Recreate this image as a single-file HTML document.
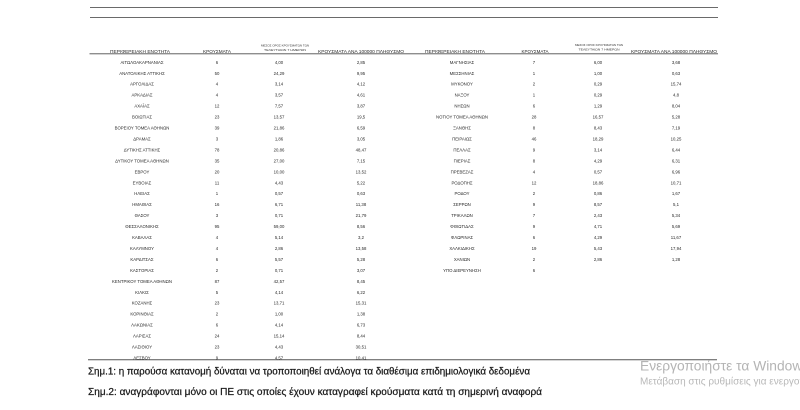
<!DOCTYPE html>
<html>
<head>
<meta charset="utf-8">
<style>
html,body{margin:0;padding:0;background:#ffffff;}
svg{display:block;}
.d{font-family:"Liberation Sans","DejaVu Sans",sans-serif;font-size:4.3px;fill:#2a2a2a;text-anchor:middle;}
.h{font-family:"Liberation Sans","DejaVu Sans",sans-serif;font-size:4.3px;fill:#2a2a2a;text-anchor:middle;}
.hs{font-family:"Liberation Sans","DejaVu Sans",sans-serif;font-size:2.9px;fill:#333;text-anchor:middle;}
.n{font-family:"Liberation Sans","DejaVu Sans",sans-serif;font-size:9.8px;fill:#1a1a1a;stroke:#1a1a1a;stroke-width:0.25;}
.w1{font-family:"Liberation Sans","DejaVu Sans",sans-serif;font-size:13.8px;fill:#b4b4b4;}
.w2{font-family:"Liberation Sans","DejaVu Sans",sans-serif;font-size:10px;fill:#b8b8b8;}
</style>
</head>
<body>
<svg width="800" height="410" viewBox="0 0 800 410" xmlns="http://www.w3.org/2000/svg">
<rect width="800" height="410" fill="#ffffff"/>
<!-- top lines -->
<line x1="90" y1="7.5" x2="718" y2="7.5" stroke="#6a6a6a" stroke-width="1"/>
<line x1="90" y1="17.5" x2="718" y2="17.5" stroke="#6a6a6a" stroke-width="1"/>

<!-- left headers -->
<text class="h" x="140" y="53" textLength="60" lengthAdjust="spacingAndGlyphs">ΠΕΡΙΦΕΡΕΙΑΚΗ ΕΝΟΤΗΤΑ</text>
<text class="h" x="217" y="53" textLength="28" lengthAdjust="spacingAndGlyphs">ΚΡΟΥΣΜΑΤΑ</text>
<text class="hs" x="285" y="46.5" textLength="48" lengthAdjust="spacingAndGlyphs">ΜΕΣΟΣ ΟΡΟΣ ΚΡΟΥΣΜΑΤΩΝ ΤΩΝ</text>
<text class="hs" x="285" y="51" textLength="42" lengthAdjust="spacingAndGlyphs">ΤΕΛΕΥΤΑΙΩΝ 7 ΗΜΕΡΩΝ</text>
<text class="h" x="361" y="53" textLength="86" lengthAdjust="spacingAndGlyphs">ΚΡΟΥΣΜΑΤΑ ΑΝΑ 100000 ΠΛΗΘΥΣΜΟ</text>

<!-- right headers -->
<text class="h" x="455" y="53" textLength="60" lengthAdjust="spacingAndGlyphs">ΠΕΡΙΦΕΡΕΙΑΚΗ ΕΝΟΤΗΤΑ</text>
<text class="h" x="535" y="53" textLength="27" lengthAdjust="spacingAndGlyphs">ΚΡΟΥΣΜΑΤΑ</text>
<text class="hs" x="599" y="46" textLength="48" lengthAdjust="spacingAndGlyphs">ΜΕΣΟΣ ΟΡΟΣ ΚΡΟΥΣΜΑΤΩΝ ΤΩΝ</text>
<text class="hs" x="599" y="50.5" textLength="41" lengthAdjust="spacingAndGlyphs">ΤΕΛΕΥΤΑΙΩΝ 7 ΗΜΕΡΩΝ</text>
<text class="h" x="674" y="53" textLength="86" lengthAdjust="spacingAndGlyphs">ΚΡΟΥΣΜΑΤΑ ΑΝΑ 100000 ΠΛΗΘΥΣΜΟ</text>

<line x1="89.5" y1="53.8" x2="718" y2="53.8" stroke="#4a4a4a" stroke-width="0.9"/>

<!-- left table rows -->
<g>
<text class="d" x="142" y="63.8">ΑΙΤΩΛΟΑΚΑΡΝΑΝΙΑΣ</text><text class="d" x="217" y="63.8">6</text><text class="d" x="279" y="63.8">4,00</text><text class="d" x="361" y="63.8">2,85</text>
<text class="d" x="142" y="74.8">ΑΝΑΤΟΛΙΚΗΣ ΑΤΤΙΚΗΣ</text><text class="d" x="217" y="74.8">50</text><text class="d" x="279" y="74.8">24,29</text><text class="d" x="361" y="74.8">9,95</text>
<text class="d" x="142" y="85.7">ΑΡΓΟΛΙΔΑΣ</text><text class="d" x="217" y="85.7">4</text><text class="d" x="279" y="85.7">3,14</text><text class="d" x="361" y="85.7">4,12</text>
<text class="d" x="142" y="96.7">ΑΡΚΑΔΙΑΣ</text><text class="d" x="217" y="96.7">4</text><text class="d" x="279" y="96.7">3,57</text><text class="d" x="361" y="96.7">4,61</text>
<text class="d" x="142" y="107.6">ΑΧΑΪΑΣ</text><text class="d" x="217" y="107.6">12</text><text class="d" x="279" y="107.6">7,57</text><text class="d" x="361" y="107.6">3,87</text>
<text class="d" x="142" y="118.6">ΒΟΙΩΤΙΑΣ</text><text class="d" x="217" y="118.6">23</text><text class="d" x="279" y="118.6">13,57</text><text class="d" x="361" y="118.6">19,5</text>
<text class="d" x="142" y="129.5">ΒΟΡΕΙΟΥ ΤΟΜΕΑ ΑΘΗΝΩΝ</text><text class="d" x="217" y="129.5">39</text><text class="d" x="279" y="129.5">21,86</text><text class="d" x="361" y="129.5">6,59</text>
<text class="d" x="142" y="140.5">ΔΡΑΜΑΣ</text><text class="d" x="217" y="140.5">3</text><text class="d" x="279" y="140.5">1,86</text><text class="d" x="361" y="140.5">3,05</text>
<text class="d" x="142" y="151.4">ΔΥΤΙΚΗΣ ΑΤΤΙΚΗΣ</text><text class="d" x="217" y="151.4">78</text><text class="d" x="279" y="151.4">20,86</text><text class="d" x="361" y="151.4">48,47</text>
<text class="d" x="142" y="162.4">ΔΥΤΙΚΟΥ ΤΟΜΕΑ ΑΘΗΝΩΝ</text><text class="d" x="217" y="162.4">35</text><text class="d" x="279" y="162.4">27,00</text><text class="d" x="361" y="162.4">7,15</text>
<text class="d" x="142" y="173.3">ΕΒΡΟΥ</text><text class="d" x="217" y="173.3">20</text><text class="d" x="279" y="173.3">10,00</text><text class="d" x="361" y="173.3">13,52</text>
<text class="d" x="142" y="184.3">ΕΥΒΟΙΑΣ</text><text class="d" x="217" y="184.3">11</text><text class="d" x="279" y="184.3">4,43</text><text class="d" x="361" y="184.3">5,22</text>
<text class="d" x="142" y="195.2">ΗΛΕΙΑΣ</text><text class="d" x="217" y="195.2">1</text><text class="d" x="279" y="195.2">0,57</text><text class="d" x="361" y="195.2">0,63</text>
<text class="d" x="142" y="206.2">ΗΜΑΘΙΑΣ</text><text class="d" x="217" y="206.2">16</text><text class="d" x="279" y="206.2">6,71</text><text class="d" x="361" y="206.2">11,38</text>
<text class="d" x="142" y="217.1">ΘΑΣΟΥ</text><text class="d" x="217" y="217.1">3</text><text class="d" x="279" y="217.1">0,71</text><text class="d" x="361" y="217.1">21,79</text>
<text class="d" x="142" y="228.1">ΘΕΣΣΑΛΟΝΙΚΗΣ</text><text class="d" x="217" y="228.1">95</text><text class="d" x="279" y="228.1">59,00</text><text class="d" x="361" y="228.1">8,56</text>
<text class="d" x="142" y="239.0">ΚΑΒΑΛΑΣ</text><text class="d" x="217" y="239.0">4</text><text class="d" x="279" y="239.0">5,14</text><text class="d" x="361" y="239.0">3,2</text>
<text class="d" x="142" y="250.0">ΚΑΛΥΜΝΟΥ</text><text class="d" x="217" y="250.0">4</text><text class="d" x="279" y="250.0">2,86</text><text class="d" x="361" y="250.0">13,58</text>
<text class="d" x="142" y="260.9">ΚΑΡΔΙΤΣΑΣ</text><text class="d" x="217" y="260.9">6</text><text class="d" x="279" y="260.9">5,57</text><text class="d" x="361" y="260.9">5,28</text>
<text class="d" x="142" y="271.9">ΚΑΣΤΟΡΙΑΣ</text><text class="d" x="217" y="271.9">2</text><text class="d" x="279" y="271.9">0,71</text><text class="d" x="361" y="271.9">3,07</text>
<text class="d" x="142" y="282.8">ΚΕΝΤΡΙΚΟΥ ΤΟΜΕΑ ΑΘΗΝΩΝ</text><text class="d" x="217" y="282.8">87</text><text class="d" x="279" y="282.8">42,57</text><text class="d" x="361" y="282.8">8,45</text>
<text class="d" x="142" y="293.8">ΚΙΛΚΙΣ</text><text class="d" x="217" y="293.8">5</text><text class="d" x="279" y="293.8">4,14</text><text class="d" x="361" y="293.8">6,22</text>
<text class="d" x="142" y="304.7">ΚΟΖΑΝΗΣ</text><text class="d" x="217" y="304.7">23</text><text class="d" x="279" y="304.7">13,71</text><text class="d" x="361" y="304.7">15,31</text>
<text class="d" x="142" y="315.7">ΚΟΡΙΝΘΙΑΣ</text><text class="d" x="217" y="315.7">2</text><text class="d" x="279" y="315.7">1,00</text><text class="d" x="361" y="315.7">1,38</text>
<text class="d" x="142" y="326.6">ΛΑΚΩΝΙΑΣ</text><text class="d" x="217" y="326.6">6</text><text class="d" x="279" y="326.6">4,14</text><text class="d" x="361" y="326.6">6,73</text>
<text class="d" x="142" y="337.6">ΛΑΡΙΣΑΣ</text><text class="d" x="217" y="337.6">24</text><text class="d" x="279" y="337.6">15,14</text><text class="d" x="361" y="337.6">8,44</text>
<text class="d" x="142" y="348.5">ΛΑΣΙΘΙΟΥ</text><text class="d" x="217" y="348.5">23</text><text class="d" x="279" y="348.5">4,43</text><text class="d" x="361" y="348.5">30,51</text>
<text class="d" x="142" y="359.5">ΛΕΣΒΟΥ</text><text class="d" x="217" y="359.5">9</text><text class="d" x="279" y="359.5">4,57</text><text class="d" x="361" y="359.5">10,41</text>
</g>

<!-- right table rows -->
<g>
<text class="d" x="462" y="63.8">ΜΑΓΝΗΣΙΑΣ</text><text class="d" x="534" y="63.8">7</text><text class="d" x="598" y="63.8">6,00</text><text class="d" x="676" y="63.8">3,68</text>
<text class="d" x="462" y="74.8">ΜΕΣΣΗΝΙΑΣ</text><text class="d" x="534" y="74.8">1</text><text class="d" x="598" y="74.8">1,00</text><text class="d" x="676" y="74.8">0,63</text>
<text class="d" x="462" y="85.7">ΜΥΚΟΝΟΥ</text><text class="d" x="534" y="85.7">2</text><text class="d" x="598" y="85.7">0,29</text><text class="d" x="676" y="85.7">15,74</text>
<text class="d" x="462" y="96.7">ΝΑΞΟΥ</text><text class="d" x="534" y="96.7">1</text><text class="d" x="598" y="96.7">0,29</text><text class="d" x="676" y="96.7">4,8</text>
<text class="d" x="462" y="107.6">ΝΗΣΩΝ</text><text class="d" x="534" y="107.6">6</text><text class="d" x="598" y="107.6">1,29</text><text class="d" x="676" y="107.6">8,04</text>
<text class="d" x="462" y="118.6">ΝΟΤΙΟΥ ΤΟΜΕΑ ΑΘΗΝΩΝ</text><text class="d" x="534" y="118.6">28</text><text class="d" x="598" y="118.6">16,57</text><text class="d" x="676" y="118.6">5,28</text>
<text class="d" x="462" y="129.5">ΞΑΝΘΗΣ</text><text class="d" x="534" y="129.5">8</text><text class="d" x="598" y="129.5">8,43</text><text class="d" x="676" y="129.5">7,19</text>
<text class="d" x="462" y="140.5">ΠΕΙΡΑΙΩΣ</text><text class="d" x="534" y="140.5">46</text><text class="d" x="598" y="140.5">18,29</text><text class="d" x="676" y="140.5">10,25</text>
<text class="d" x="462" y="151.4">ΠΕΛΛΑΣ</text><text class="d" x="534" y="151.4">9</text><text class="d" x="598" y="151.4">3,14</text><text class="d" x="676" y="151.4">6,44</text>
<text class="d" x="462" y="162.4">ΠΙΕΡΙΑΣ</text><text class="d" x="534" y="162.4">8</text><text class="d" x="598" y="162.4">4,29</text><text class="d" x="676" y="162.4">6,31</text>
<text class="d" x="462" y="173.3">ΠΡΕΒΕΖΑΣ</text><text class="d" x="534" y="173.3">4</text><text class="d" x="598" y="173.3">0,57</text><text class="d" x="676" y="173.3">6,96</text>
<text class="d" x="462" y="184.3">ΡΟΔΟΠΗΣ</text><text class="d" x="534" y="184.3">12</text><text class="d" x="598" y="184.3">18,86</text><text class="d" x="676" y="184.3">10,71</text>
<text class="d" x="462" y="195.2">ΡΟΔΟΥ</text><text class="d" x="534" y="195.2">2</text><text class="d" x="598" y="195.2">0,86</text><text class="d" x="676" y="195.2">1,67</text>
<text class="d" x="462" y="206.2">ΣΕΡΡΩΝ</text><text class="d" x="534" y="206.2">9</text><text class="d" x="598" y="206.2">8,57</text><text class="d" x="676" y="206.2">5,1</text>
<text class="d" x="462" y="217.1">ΤΡΙΚΑΛΩΝ</text><text class="d" x="534" y="217.1">7</text><text class="d" x="598" y="217.1">2,43</text><text class="d" x="676" y="217.1">5,34</text>
<text class="d" x="462" y="228.1">ΦΘΙΩΤΙΔΑΣ</text><text class="d" x="534" y="228.1">9</text><text class="d" x="598" y="228.1">4,71</text><text class="d" x="676" y="228.1">5,69</text>
<text class="d" x="462" y="239.0">ΦΛΩΡΙΝΑΣ</text><text class="d" x="534" y="239.0">6</text><text class="d" x="598" y="239.0">4,29</text><text class="d" x="676" y="239.0">11,67</text>
<text class="d" x="462" y="250.0">ΧΑΛΚΙΔΙΚΗΣ</text><text class="d" x="534" y="250.0">19</text><text class="d" x="598" y="250.0">5,43</text><text class="d" x="676" y="250.0">17,94</text>
<text class="d" x="462" y="260.9">ΧΑΝΙΩΝ</text><text class="d" x="534" y="260.9">2</text><text class="d" x="598" y="260.9">2,86</text><text class="d" x="676" y="260.9">1,28</text>
<text class="d" x="462" y="271.9">ΥΠΟ ΔΙΕΡΕΥΝΗΣΗ</text><text class="d" x="534" y="271.9">6</text>
</g>

<!-- bottom line -->
<line x1="88" y1="359.7" x2="717" y2="359.7" stroke="#555" stroke-width="1"/>

<!-- footnotes -->
<text class="n" x="88" y="374.5" textLength="442" lengthAdjust="spacingAndGlyphs">Σημ.1: η παρούσα κατανομή δύναται να τροποποιηθεί ανάλογα τα διαθέσιμα επιδημιολογικά δεδομένα</text>
<text class="n" x="88" y="395" textLength="454" lengthAdjust="spacingAndGlyphs">Σημ.2: αναγράφονται μόνο οι ΠΕ στις οποίες έχουν καταγραφεί κρούσματα κατά τη σημερινή αναφορά</text>

<!-- watermark -->
<text class="w1" x="640" y="370.5">Ενεργοποιήστε τα Windows</text>
<text class="w2" x="640" y="384.5">Μετάβαση στις ρυθμίσεις για ενεργοποίηση των Windows.</text>
</svg>
</body>
</html>
